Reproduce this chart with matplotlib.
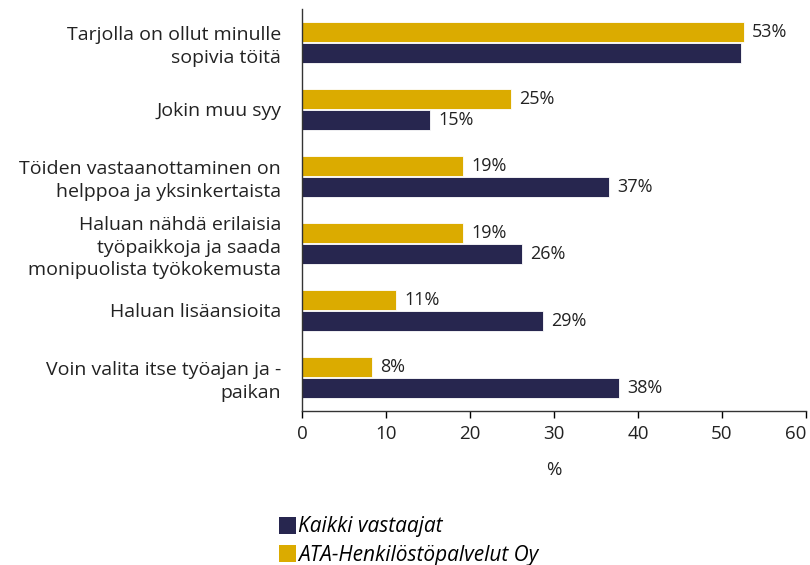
import numpy as np
import matplotlib.pyplot as plt
from matplotlib.patches import Patch

plt.rcParams['font.family'] = ['Open Sans', 'DejaVu Sans']

categories = [
    'Tarjolla on ollut minulle\nsopivia töitä',
    'Jokin muu syy',
    'Töiden vastaanottaminen on\nhelppoa ja yksinkertaista',
    'Haluan nähdä erilaisia\ntyöpaikkoja ja saada\nmonipuolista työkokemusta',
    'Haluan lisäansioita',
    'Voin valita itse työajan ja -\npaikan',
]
ata = [52.6, 24.9, 19.2, 19.2, 11.2, 8.3]
ata_labels = ['53%', '25%', '19%', '19%', '11%', '8%']
kaikki = [52.3, 15.3, 36.6, 26.2, 28.7, 37.7]
kaikki_labels = ['', '15%', '37%', '26%', '29%', '38%']

navy = '#27264f'
gold = '#dbab00'

fig = plt.figure(figsize=(8.1, 5.65), dpi=100)
ax = fig.add_axes([0.3728, 0.2726, 0.6222, 0.7115])

y = np.arange(len(categories))
h = 0.29
off = 0.155
b1 = ax.barh(y - off, ata, height=h, color=gold, edgecolor='white', linewidth=0.6)
b2 = ax.barh(y + off, kaikki, height=h, color=navy, edgecolor='white', linewidth=0.6)
ax.bar_label(b1, labels=ata_labels, padding=6, fontsize=13, color='#222222')
ax.bar_label(b2, labels=kaikki_labels, padding=6, fontsize=13, color='#222222')

ax.set_ylim(5.5, -0.5)
ax.set_xlim(0, 60)
ax.set_xticks(range(0, 61, 10))
ax.set_yticks(y)
ax.set_yticklabels(categories, fontsize=14, color='#222222', linespacing=1.3)
ax.tick_params(axis='y', length=0, pad=15)
ax.tick_params(axis='x', length=5, width=1, labelsize=13.5, labelcolor='#222222', pad=5)
ax.get_xticklabels()[-1].set_horizontalalignment('right')
for s in ['top', 'right']:
    ax.spines[s].set_visible(False)
for s in ['left', 'bottom']:
    ax.spines[s].set_color('#333333')
    ax.spines[s].set_linewidth(1)
ax.set_xlabel('%', fontsize=13.5, color='#222222', labelpad=13)

handles = [Patch(facecolor=navy, label='Kaikki vastaajat'),
           Patch(facecolor=gold, label='ATA-Henkilöstöpalvelut Oy')]
fig.legend(handles=handles, loc='upper left', bbox_to_anchor=(0.345, 0.086),
           frameon=False, prop={'style': 'italic', 'size': 15},
           handlelength=0.8, handleheight=0.9, handletextpad=0.1,
           labelspacing=0.35, borderaxespad=0, borderpad=0)

fig.savefig('out.png', dpi=100)
